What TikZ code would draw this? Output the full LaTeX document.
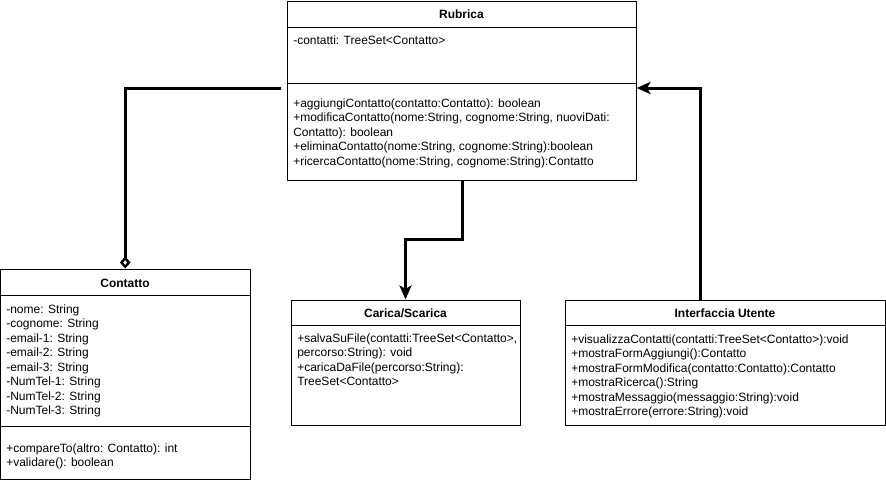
\documentclass[tikz,border=0pt]{standalone}
\usepackage{fontspec}
\setmainfont{Liberation Sans}
\usetikzlibrary{arrows.meta,fit}
\begin{document}
\begin{tikzpicture}[x=0.75pt,y=-0.75pt,
  box/.style={draw=black,line width=0.75pt,inner sep=0pt,fill=white},
  div/.style={draw=black,line width=0.75pt},
  txt/.style={font=\fontsize{9}{10.8}\selectfont,inner sep=0pt,anchor=base west},
  ttl/.style={font=\fontsize{9}{10.8}\selectfont\bfseries,inner sep=0pt,anchor=base},
  conn/.style={draw=black,line width=2.25pt},
  tip/.style={-{Stealth[length=10.5pt,width=9pt,inset=2.5pt]}}
]
\useasboundingbox (0,0) rectangle (886,483);

% ---------- Rubrica ----------
\node[box,fit={(287,1) (636,180)}] (rub) {};
\draw[div] (rub.west |- 0,27) -- (rub.east |- 0,27);
\draw[div] (rub.west |- 0,83) -- (rub.east |- 0,83);
\node[ttl] (rubt) at (461.5,18) {Rubrica};
\node[txt] (ruba) at (293,44) {-contatti: TreeSet<Contatto>};
\foreach \t [count=\i] in {{+aggiungiContatto(contatto:Contatto): boolean},
  {+modificaContatto(nome:String, cognome:String, nuoviDati:},
  {Contatto): boolean},
  {+eliminaContatto(nome:String, cognome:String):boolean},
  {+ricercaContatto(nome:String, cognome:String):Contatto}}
  \node[txt] (rubm-\i) at (293,{107+14.6*(\i-1)}) {\t};

% ---------- Contatto ----------
\node[box,fit={(0.4,269) (250,479)}] (con) {};
\draw[div] (con.west |- 0,295) -- (con.east |- 0,295);
\draw[div] (con.west |- 0,426) -- (con.east |- 0,426);
\node[ttl] (cont) at (125,287) {Contatto};
\foreach \t [count=\i] in {{-nome: String},{-cognome: String},{-email-1: String},
  {-email-2: String},{-email-3: String},{-NumTel-1: String},{-NumTel-2: String},
  {-NumTel-3: String}}
  \node[txt] (cona-\i) at (6,{313+14.5*(\i-1)}) {\t};
\foreach \t [count=\i] in {{+compareTo(altro: Contatto): int},{+validare(): boolean}}
  \node[txt] (conm-\i) at (6,{452+14.5*(\i-1)}) {\t};

% ---------- Carica/Scarica ----------
\node[box,fit={(291,300) (520,425)}] (car) {};
\draw[div] (car.west |- 0,325) -- (car.east |- 0,325);
\node[ttl] (cart) at (405.5,317) {Carica/Scarica};
\foreach \t [count=\i] in {{+salvaSuFile(contatti:TreeSet<Contatto>,},
  {percorso:String): void},{+caricaDaFile(percorso:String):},{TreeSet<Contatto>}}
  \node[txt] (carm-\i) at (297,{342+14.6*(\i-1)}) {\t};

% ---------- Interfaccia Utente ----------
\node[box,fit={(565,300) (885,425)}] (ui) {};
\draw[div] (ui.west |- 0,325) -- (ui.east |- 0,325);
\node[ttl] (uit) at (725,317) {Interfaccia Utente};
\foreach \t [count=\i] in {{+visualizzaContatti(contatti:TreeSet<Contatto>):void},
  {+mostraFormAggiungi():Contatto},{+mostraFormModifica(contatto:Contatto):Contatto},
  {+mostraRicerca():String},{+mostraMessaggio(messaggio:String):void},
  {+mostraErrore(errore:String):void}}
  \node[txt] (uim-\i) at (571,{343+14.5*(\i-1)}) {\t};

% ---------- Connectors ----------
\draw[conn,-{Diamond[open,fill=white,length=9pt,width=8pt,line width=1.8pt]}]
  ([xshift=-4.5pt]rub.west |- 0,88) -| (con.north);
\coordinate (bend) at (462,239);
\draw[conn,tip] (rub.south -| bend) -- (bend) -| (car.north);
\coordinate (uiup) at (700,88);
\draw[conn,tip] (ui.north -| uiup) |- (rub.east |- uiup);
\end{tikzpicture}
\end{document}
